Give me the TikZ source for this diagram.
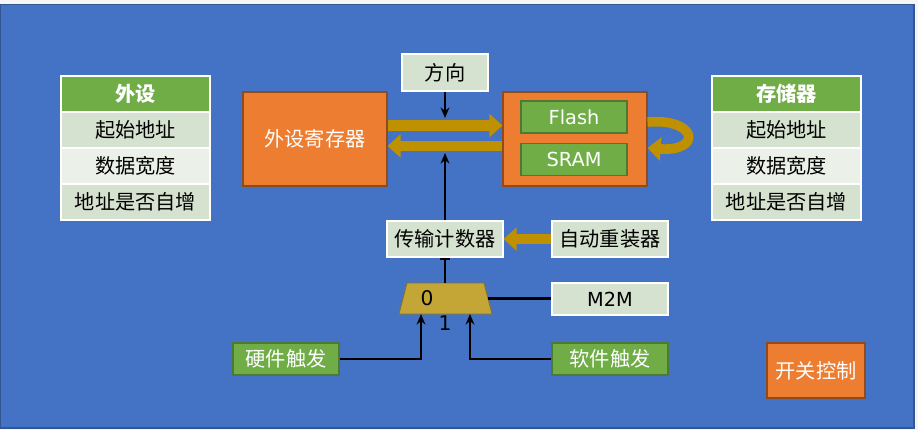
\documentclass[tikz,border=0pt]{standalone}
\usepackage{fontspec}
\setmainfont{DejaVu Sans}
\newfontfamily\cjk{Noto Sans CJK SC}
\usetikzlibrary{arrows.meta}
\definecolor{bgblue}{HTML}{4472C4}
\definecolor{hdgreen}{HTML}{70AD47}
\definecolor{pale}{HTML}{D5E2CF}
\definecolor{paler}{HTML}{EBF0E9}
\definecolor{regorange}{HTML}{ED7D31}
\definecolor{gold}{HTML}{BF9000}
\definecolor{muxgold}{HTML}{C3A635}
\begin{document}
\begin{tikzpicture}[x=0.02cm,y=-0.02cm,>={Stealth[length=6pt,width=5pt]},
  cn/.style={font=\cjk\fontsize{11.5}{13}\selectfont},
  cell/.style={cn,draw=white,line width=0.8pt,fill=pale,minimum width=2.98cm,minimum height=0.72cm,inner sep=0pt},
  litecell/.style={cell,fill=paler},
  head/.style={cell,fill=hdgreen,text=white,font=\cjk\bfseries\fontsize{11.5}{13}\selectfont},
  box/.style={cn,draw=white,line width=0.6pt,fill=pale,minimum width=2.32cm,minimum height=0.72cm,inner sep=0pt},
  gbox/.style={cn,draw=hdgreen!70!black,line width=0.6pt,fill=hdgreen,text=white,minimum width=2.12cm,minimum height=0.64cm,inner sep=0pt},
  obox/.style={cn,draw=regorange!60!black,line width=0.6pt,fill=regorange,text=white,minimum width=2.88cm,minimum height=1.88cm,inner sep=0pt},
  wire/.style={line width=1.4pt},
  fat/.style={gold,line width=6pt,-{Triangle[length=7.5pt,width=13pt]}}]
 \useasboundingbox (0,0) rectangle (918,430);
 \fill[gray!8] (0,0) rectangle (918,430);
 \draw[fill=bgblue,draw=bgblue!75!black,line width=0.6pt] (0.5,4.5) rectangle (914,428);

 \node[head] (phead) at (135.5,94) {外设};
 \node[cell] (pstart) at (135.5,130) {起始地址};
 \node[litecell] (pwidth) at (135.5,166) {数据宽度};
 \node[cell] (pinc) at (135.5,202) {地址是否自增};

 \node[head] (mhead) at (786.5,94) {存储器};
 \node[cell] (mstart) at (786.5,130) {起始地址};
 \node[litecell] (mwidth) at (786.5,166) {数据宽度};
 \node[cell] (minc) at (786.5,202) {地址是否自增};

 \node[box,minimum width=1.72cm,minimum height=0.74cm] (dir) at (445,72.5) {方向};
 \node[obox] (preg) at (315,139) {外设寄存器};
 \node[obox] (mem) at (575,139) {};
 \node[gbox,font=\fontsize{11}{13}\selectfont] (flash) at (574,117) {Flash};
 \node[gbox,font=\fontsize{11}{13}\selectfont] (sram) at (574,159.5) {SRAM};

 \node[box] (counter) at (445,239) {传输计数器};
 \node[box] (reload) at (610,239) {自动重装器};
 \node[box,minimum height=0.64cm,font=\fontsize{11}{13}\selectfont] (m2m) at (610,299) {M2M};
 \node[gbox] (hw) at (286,359) {硬件触发};
 \node[gbox,minimum width=2.32cm] (sw) at (610,359) {软件触发};
 \node[obox,minimum width=1.96cm,minimum height=1.1cm] (sel) at (816,370.5) {开关控制};

 \draw[fill=muxgold,draw=muxgold!70!black,line width=0.5pt] (407,283) -- (484,283) -- (492,314) -- (399,314) -- cycle;
 \coordinate (muxtop) at (445,283);
 \coordinate (muxright) at (488,298.5);
 \node[font=\fontsize{11.5}{13}\selectfont] (zero) at (427,298) {0};
 \node[font=\fontsize{11.5}{13}\selectfont] (one) at (445,323) {1};

 \draw[fat] ([yshift=0.27cm]preg.east) -- ([yshift=0.27cm]mem.west);
 \draw[fat] ([yshift=-0.14cm]mem.west) -- ([yshift=-0.14cm]preg.east);
 \draw[fat,line width=5.5pt] ([yshift=0.34cm]mem.east) .. controls (698,118) and (702,152) .. ([yshift=-0.18cm]mem.east);
 \draw[fat] (reload.west) -- (counter.east);

 \coordinate (dirtip) at (445,118);
 \coordinate (cnttip) at (445,153);
 \coordinate (hwin) at (421,314);
 \coordinate (swin) at (470,314);
 \draw[wire,->] (dir.south) -- (dirtip);
 \draw[wire,->] (counter.north) -- (cnttip);
 \draw[wire,-{Bar[width=6pt]}] (muxtop) -- (counter.south);
 \draw[wire] (muxright) -- (muxright -| m2m.west);
 \draw[wire,->] (hw.east) -| (hwin);
 \draw[wire,->] (sw.west) -| (swin);
\end{tikzpicture}
\end{document}
